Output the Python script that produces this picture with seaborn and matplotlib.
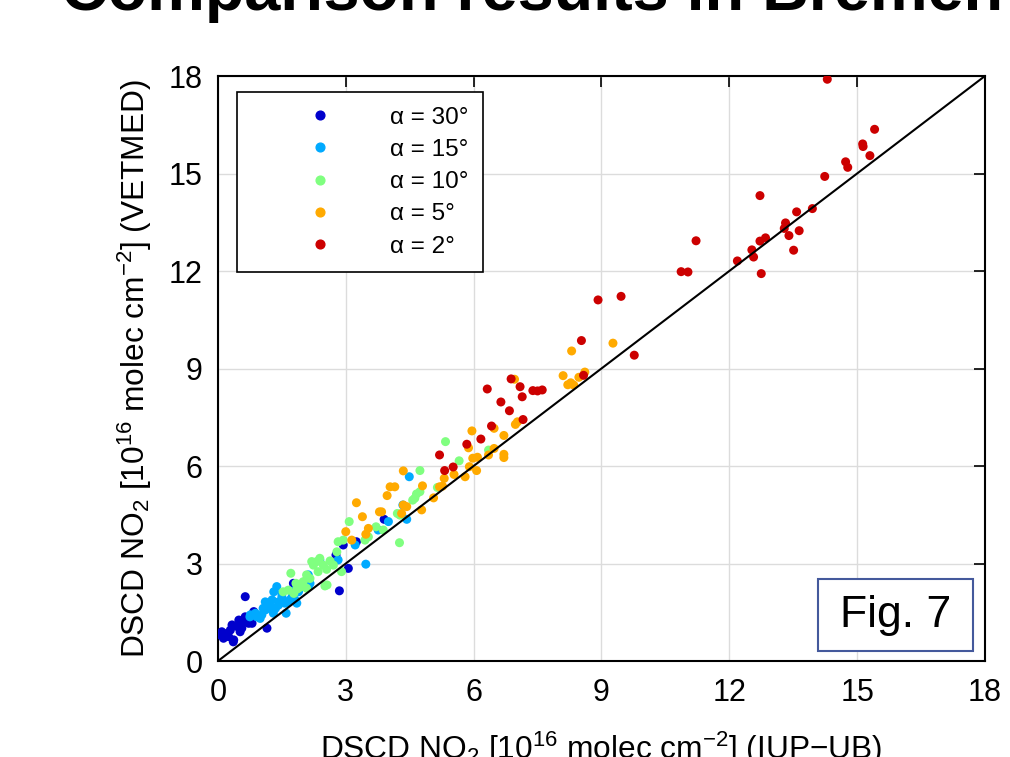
import numpy as np
import pandas as pd
import matplotlib
matplotlib.use("Agg")
import matplotlib.pyplot as plt
import seaborn as sns
from matplotlib.patches import Rectangle
from matplotlib.lines import Line2D

# ---------------- data (10^16 molec cm^-2) ----------------
x30 = [0.05, 0.09, 0.13, 0.21, 0.25, 0.29, 0.33, 0.37, 0.36, 0.45, 0.49, 0.52, 0.56, 0.60,
       0.64, 0.64, 0.72, 0.80, 0.84, 0.79, 1.15, 1.77, 1.97, 2.77, 2.85, 2.94, 3.06, 3.25, 3.90]
y30 = [0.80, 0.90, 0.70, 0.85, 0.75, 0.95, 1.11, 0.65, 0.59, 1.06, 1.26, 0.90, 1.01, 1.21,
       1.36, 1.98, 1.16, 1.16, 1.52, 1.36, 1.01, 2.39, 2.34, 3.26, 2.16, 3.57, 2.85, 3.67, 4.36]

x15 = [0.75, 0.76, 0.88, 0.91, 0.99, 1.03, 1.06, 1.11, 1.11, 1.22, 1.23, 1.27, 1.30, 1.31, 1.35,
       1.38, 1.42, 1.42, 1.50, 1.50, 1.57, 1.60, 1.62, 1.69, 1.74, 1.81, 1.81, 1.85, 1.89, 1.92,
       2.08, 2.12, 2.12, 2.16, 2.39, 2.82, 3.22, 3.47, 3.76, 4.00, 4.34, 4.43, 4.49]
y15 = [1.36, 1.42, 1.47, 1.36, 1.31, 1.42, 1.62, 1.57, 1.82, 1.62, 1.67, 1.88, 1.47, 2.13, 1.62,
       2.29, 1.82, 1.72, 2.08, 1.98, 1.78, 1.47, 1.82, 1.88, 1.98, 1.88, 2.18, 1.78, 2.13, 2.29,
       2.49, 2.29, 2.65, 2.39, 3.11, 3.11, 3.57, 2.98, 4.03, 4.29, 4.80, 4.36, 5.67]

x10 = [1.53, 1.65, 1.71, 1.78, 1.83, 1.85, 1.89, 1.96, 2.00, 2.08, 2.08, 2.16, 2.20, 2.24, 2.32,
       2.35, 2.39, 2.47, 2.51, 2.55, 2.56, 2.63, 2.71, 2.79, 2.82, 2.90, 2.94, 3.08, 3.45, 3.53,
       3.71, 3.88, 4.21, 4.26, 4.27, 4.57, 4.62, 4.66, 4.74, 4.74, 5.15, 5.34, 5.66, 6.35]
y10 = [2.13, 2.18, 2.70, 2.08, 2.39, 2.21, 2.24, 2.29, 2.44, 2.24, 2.65, 2.54, 3.06, 2.95, 3.06,
       2.75, 3.16, 2.95, 2.31, 2.82, 2.34, 3.08, 2.95, 3.36, 3.67, 2.75, 3.72, 4.29, 3.72, 3.82,
       4.13, 4.03, 4.54, 3.64, 4.49, 4.95, 5.01, 5.14, 5.21, 5.86, 5.34, 6.75, 6.16, 6.49]

x5 = [3.00, 3.14, 3.25, 3.39, 3.47, 3.53, 3.79, 3.84, 3.97, 4.04, 4.15, 4.31, 4.35, 4.35, 4.43,
      4.78, 4.80, 5.06, 5.20, 5.27, 5.31, 5.54, 5.80, 5.88, 5.90, 5.96, 5.98, 6.07, 6.09, 6.35,
      6.48, 6.48, 6.71, 6.71, 6.71, 6.96, 6.98, 7.03, 8.10, 8.21, 8.28, 8.30, 8.35, 8.47, 8.61, 9.27]
y5 = [3.98, 3.72, 4.87, 4.44, 3.90, 4.08, 4.59, 4.59, 5.09, 5.36, 5.36, 4.54, 4.80, 5.85, 4.75,
      4.65, 5.39, 5.02, 5.36, 5.38, 5.62, 5.74, 5.67, 6.56, 5.98, 7.08, 6.24, 5.86, 6.27, 6.34,
      6.54, 7.16, 6.36, 6.26, 6.94, 8.67, 7.28, 7.36, 8.78, 8.50, 8.56, 9.54, 8.49, 8.73, 8.89, 9.78]

x2 = [5.20, 5.32, 5.52, 5.84, 6.17, 6.32, 6.42, 6.64, 6.84, 6.88, 7.09, 7.14, 7.16, 7.39, 7.50,
      7.61, 8.53, 8.58, 8.92, 9.46, 9.77, 10.87, 11.03, 11.22, 12.19, 12.53, 12.57, 12.72, 12.72,
      12.75, 12.85, 13.29, 13.32, 13.40, 13.51, 13.58, 13.64, 13.95, 14.24, 14.30, 14.73, 14.78,
      15.13, 15.14, 15.30, 15.41]
y2 = [6.34, 5.86, 5.97, 6.67, 6.83, 8.37, 7.23, 7.97, 7.70, 8.68, 8.44, 8.13, 7.43, 8.32, 8.31,
      8.34, 9.86, 8.79, 11.11, 11.22, 9.41, 11.98, 11.97, 12.93, 12.31, 12.65, 12.43, 12.92, 14.32,
      11.92, 13.02, 13.31, 13.48, 13.09, 12.64, 13.82, 13.24, 13.92, 14.91, 17.90, 15.36, 15.19,
      15.91, 15.83, 15.55, 16.36]

labels = ["α = 30°", "α = 15°", "α = 10°", "α = 5°", "α = 2°"]
colors = ["#0000CC", "#00AAFF", "#80FF80", "#FFAA00", "#CC0000"]
ticks = [0, 3, 6, 9, 12, 15, 18]

groups = [(x30, y30), (x15, y15), (x10, y10), (x5, y5), (x2, y2)]
df = pd.concat([pd.DataFrame({"iup": gx, "vetmed": gy, "angle": lab})
                for (gx, gy), lab in zip(groups, labels)], ignore_index=True)

# ---------------- style ----------------
sns.set_theme(style="white")
plt.rcParams["font.family"] = ["Liberation Sans", "DejaVu Sans"]
plt.rcParams["mathtext.fontset"] = "custom"
plt.rcParams["mathtext.rm"] = "Liberation Sans"
plt.rcParams["mathtext.it"] = "Liberation Sans:italic"
plt.rcParams["mathtext.bf"] = "Liberation Sans:bold"
plt.rcParams["text.color"] = "black"
plt.rcParams["axes.labelcolor"] = "black"
plt.rcParams["xtick.color"] = "black"
plt.rcParams["ytick.color"] = "black"

fig = plt.figure(figsize=(10.1, 7.57), dpi=100)
ax = fig.add_axes([0.2158, 0.1268, 0.7594, 0.7728])

sns.scatterplot(data=df, x="iup", y="vetmed", hue="angle", hue_order=labels,
                palette=dict(zip(labels, colors)), s=42, linewidth=0, ax=ax,
                legend=False, zorder=3)
ax.plot([0, 18], [0, 18], color="black", lw=1.5, zorder=4)

ax.set_xlim(0, 18)
ax.set_ylim(0, 18)
ax.set_xticks(ticks)
ax.set_yticks(ticks)
ax.set_xticklabels([str(t) for t in ticks])
ax.set_yticklabels([str(t) for t in ticks])
ax.grid(True, color="#dcdcdc", lw=1.0)
ax.set_axisbelow(True)
ax.tick_params(direction="in", length=8, width=1.2, top=True, right=True,
               labelsize=22, colors="black")
ax.tick_params(axis="x", pad=12)
ax.tick_params(axis="y", pad=11)
for sp in ax.spines.values():
    sp.set_color("black")
    sp.set_linewidth(1.5)

ax.set_xlabel("DSCD NO$_2$ [10$^{16}$ molec cm$^{-2}$] (IUP−UB)", fontsize=22.8, va="baseline")
ax.xaxis.set_label_coords(0.5, -0.167)
ax.set_ylabel("DSCD NO$_2$ [10$^{16}$ molec cm$^{-2}$] (VETMED)", fontsize=22.8, va="center")
ax.yaxis.set_label_coords(-0.108, 0.5)

handles = [Line2D([], [], marker="o", ls="none", color=c, markersize=6.3) for c in colors]
leg = ax.legend(handles, labels, loc="upper left", bbox_to_anchor=(0.0248, 0.9726),
                borderaxespad=0, fontsize=17.5, handlelength=5.6, handletextpad=0.1,
                labelspacing=0.42, borderpad=0.6, frameon=True, fancybox=False,
                framealpha=1, edgecolor="black")
leg.get_frame().set_linewidth(1.2)

fig.text(0.06, 1 - 10 / 757, "Comparison results in Bremen", fontsize=46.6,
         fontweight="bold", ha="left", va="baseline", color="black")

fig.add_artist(Rectangle((0.81, 0.140), 0.1535, 0.0951, transform=fig.transFigure,
                         fc="white", ec="#44599C", lw=1.5, zorder=10))
fig.text(0.887, 0.187, "Fig. 7", fontsize=32, ha="center", va="center", zorder=11,
         color="black")

fig.savefig("out.png", dpi=100)
